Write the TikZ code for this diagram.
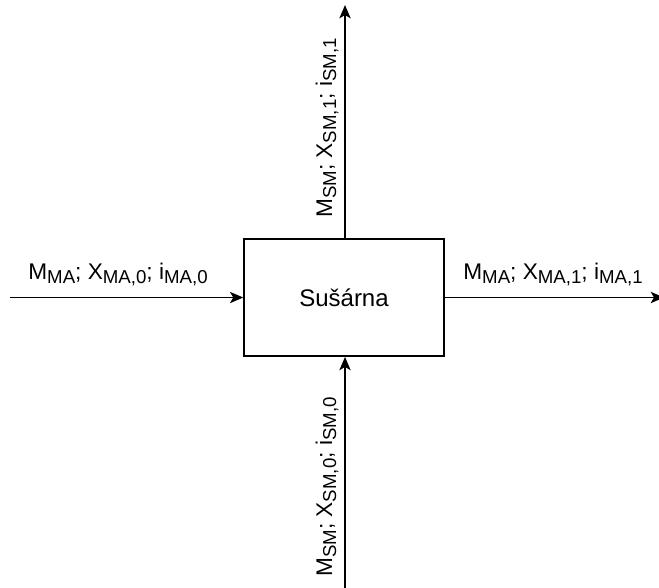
\documentclass[tikz,border=0pt]{standalone}
\usepackage{fontspec}
\setmainfont{Liberation Sans}
\usetikzlibrary{arrows.meta}
\newcommand\sbx[1]{\raisebox{-3pt}{\fontsize{14}{14}\selectfont #1}}
\begin{document}
\begin{tikzpicture}[x=0.75pt,y=-0.75pt,
  flow/.style={draw=black,line width=1.1pt,-{Stealth[length=10pt,width=8.5pt,inset=2.5pt]}},
  lbl/.style={font=\fontsize{17}{20}\selectfont,inner sep=0pt},
  blk/.style={draw=black,line width=1.1pt,minimum width=150pt,minimum height=88pt,inner sep=0pt,font=\fontsize{18}{20}\selectfont}]
\useasboundingbox (0,0) rectangle (659,587);
\node[blk] (box) at (344,297.5) {Sušárna};
\coordinate (inL) at (10,297.5);
\coordinate (outR) at (664,297.5);
\coordinate (outT) at (345,5);
\coordinate (inB) at (345,590);
\draw[flow] (inL) -- (box.west);
\draw[flow] (box.east) -- (outR);
\draw[flow] (box.north -| outT) -- (outT);
\draw[flow] (inB) -- (box.south -| inB);
\node[lbl] (lL) at (118,274) {M\sbx{MA}; X\sbx{MA,0}; i\sbx{MA,0}};
\node[lbl] (lR) at (553,274) {M\sbx{MA}; X\sbx{MA,1}; i\sbx{MA,1}};
\node[lbl,rotate=90] (lT) at (327,128) {M\sbx{SM}; X\sbx{SM,1}; i\sbx{SM,1}};
\node[lbl,rotate=90] (lB) at (327,487) {M\sbx{SM}; X\sbx{SM,0}; i\sbx{SM,0}};
\end{tikzpicture}
\end{document}
